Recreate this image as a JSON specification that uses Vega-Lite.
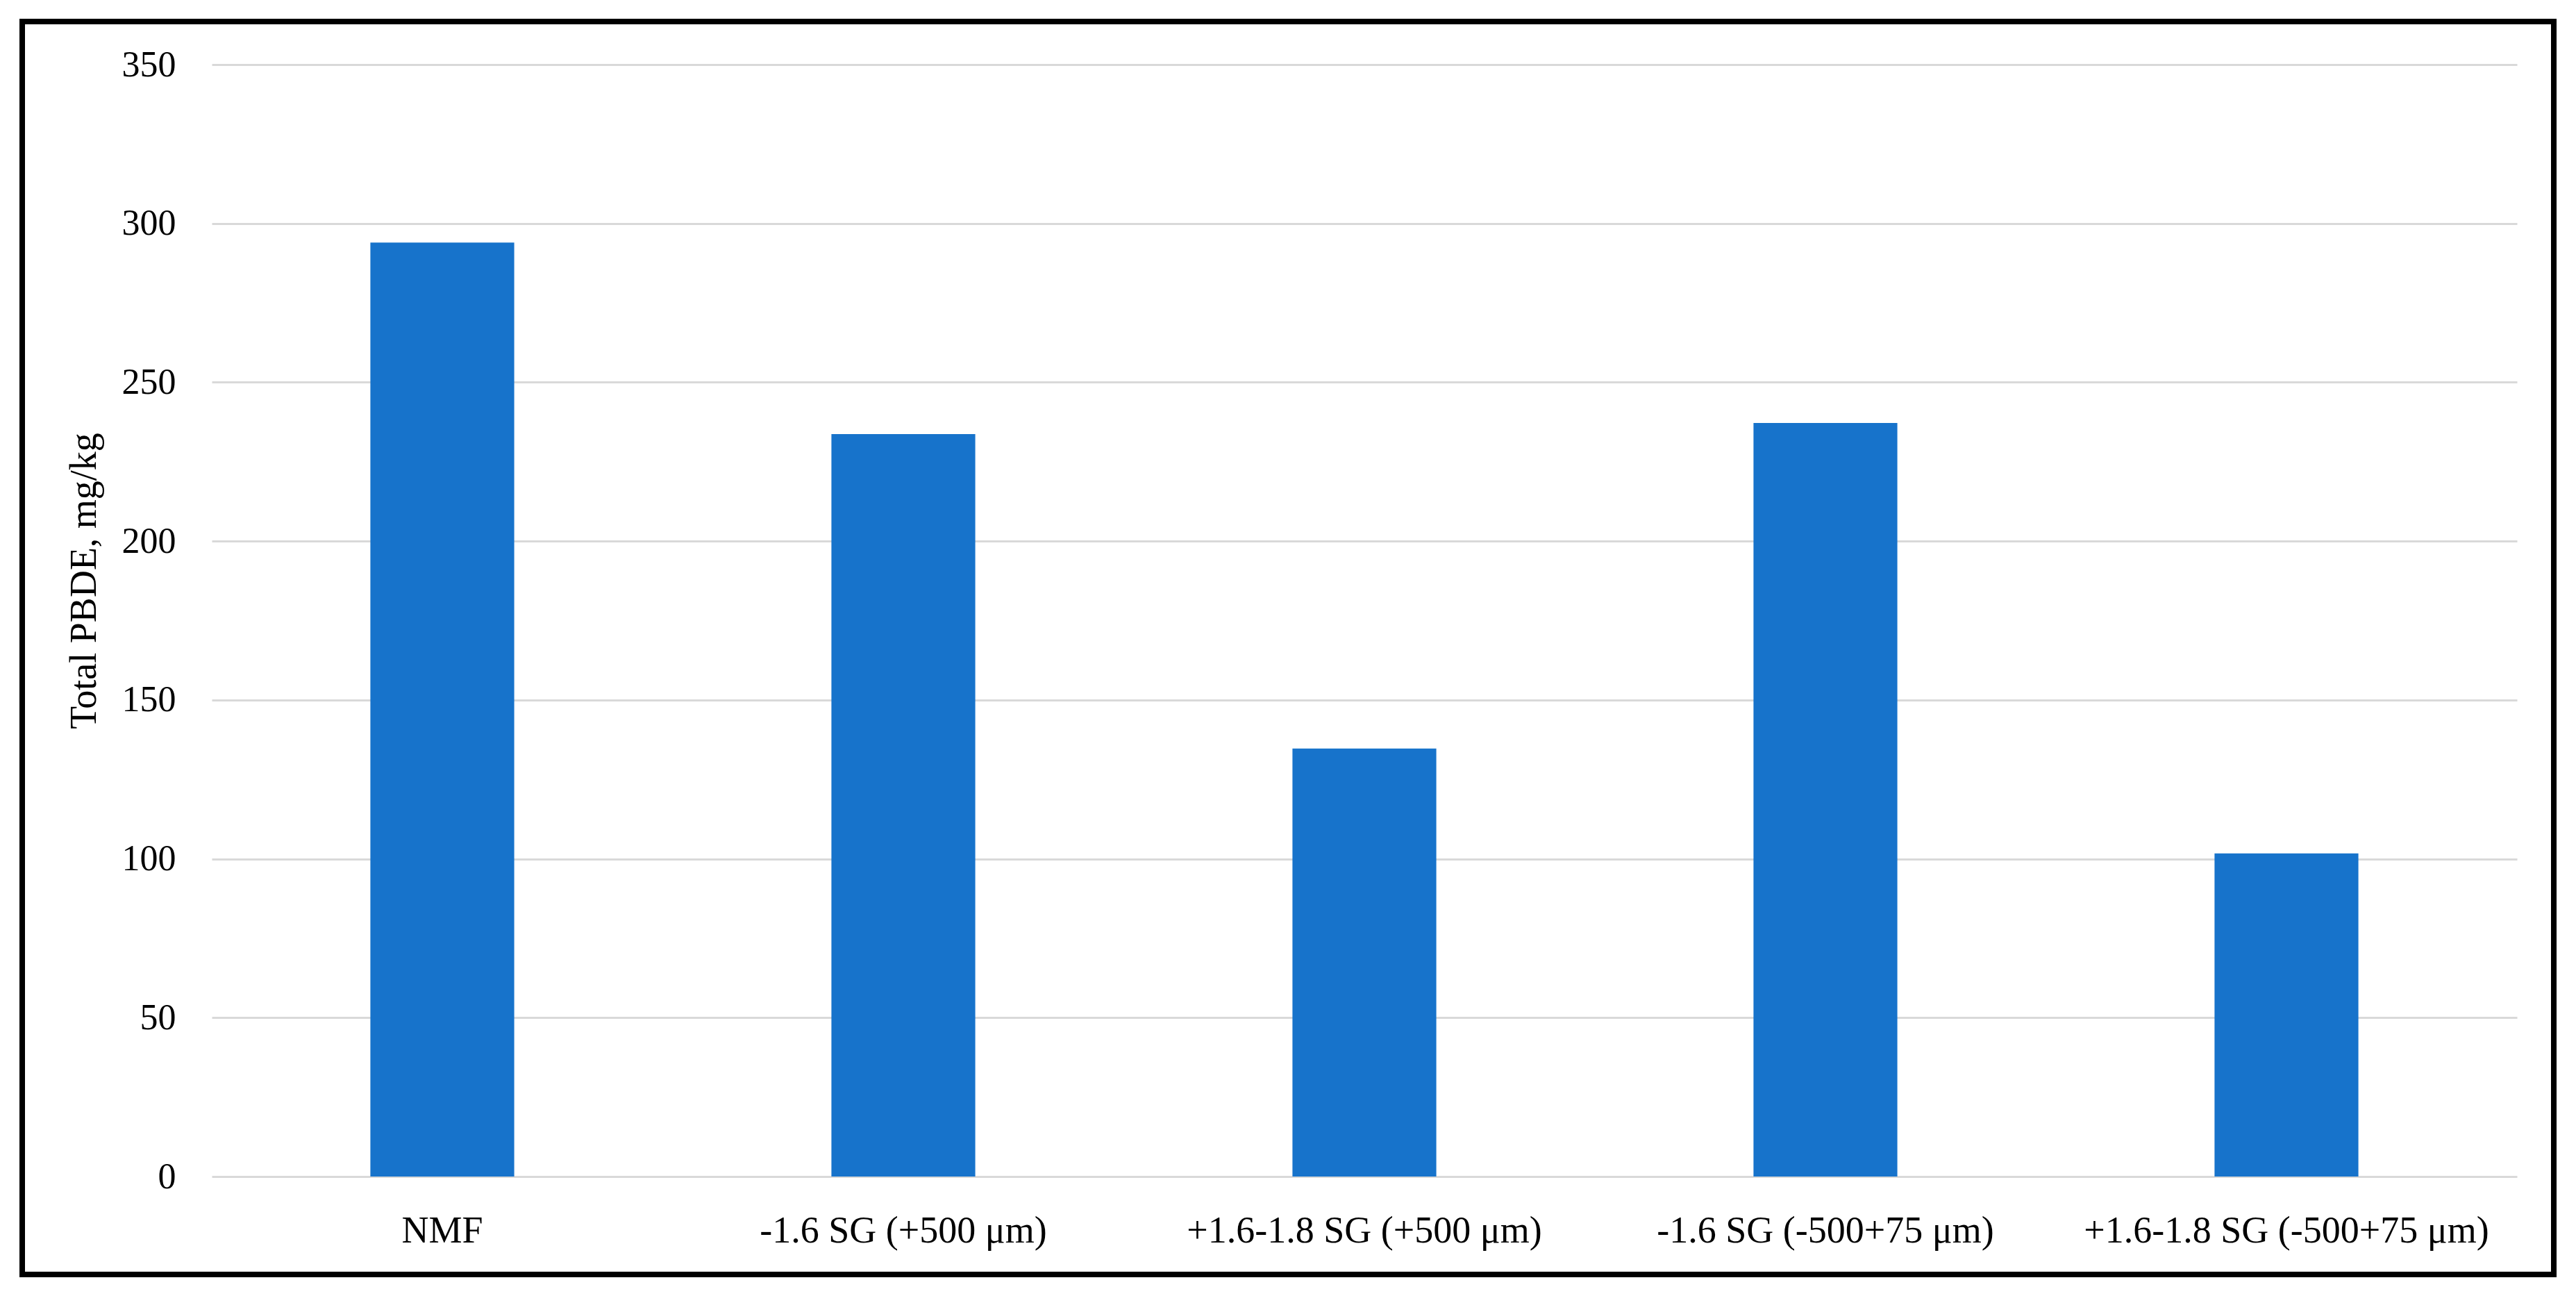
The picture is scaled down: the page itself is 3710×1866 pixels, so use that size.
{
  "$schema": "https://vega.github.io/schema/vega-lite/v6.json",
  "width": 3646,
  "height": 1804,
  "autosize": "none",
  "padding": {"left": 32, "top": 31, "right": 32, "bottom": 31},
  "background": "white",
  "data": {
    "values": [
      {"sample": "NMF", "pbde": 294.0},
      {"sample": "-1.6 SG (+500 μm)", "pbde": 233.7},
      {"sample": "+1.6-1.8 SG (+500 μm)", "pbde": 134.7},
      {"sample": "-1.6 SG (-500+75 μm)", "pbde": 237.2},
      {"sample": "+1.6-1.8 SG (-500+75 μm)", "pbde": 101.7}
    ]
  },
  "mark": {"type": "bar", "color": "#1773CB"},
  "encoding": {
    "x": {
      "field": "sample",
      "type": "nominal",
      "sort": null,
      "scale": {"range": [273, 3593], "paddingInner": 0.688, "paddingOuter": 0.344},
      "axis": {
        "title": null,
        "labelAngle": 0,
        "domain": false,
        "ticks": false,
        "tickSize": 0,
        "grid": false,
        "labelPadding": 51,
        "offset": -141,
        "labelFont": "Liberation Serif",
        "labelFontSize": 54,
        "labelColor": "#000000",
        "labelOverlap": false,
        "labelLimit": 0
      }
    },
    "y": {
      "field": "pbde",
      "type": "quantitative",
      "scale": {"domain": [0, 350], "range": [1663, 62], "nice": false, "zero": true},
      "axis": {
        "title": "Total PBDE, mg/kg",
        "values": [0, 50, 100, 150, 200, 250, 300, 350],
        "domain": false,
        "ticks": false,
        "tickSize": 0,
        "grid": true,
        "gridColor": "#D9D9D9",
        "gridWidth": 3,
        "labelPadding": 52,
        "offset": -273,
        "labelFont": "Liberation Serif",
        "labelFontSize": 52,
        "labelColor": "#000000",
        "titleFont": "Liberation Serif",
        "titleFontSize": 54,
        "titleFontWeight": "normal",
        "titleColor": "#000000",
        "titleAngle": 270,
        "titleAlign": "center",
        "titleBaseline": "middle",
        "titleX": -184,
        "titleY": 805
      }
    }
  },
  "config": {"view": {"stroke": "#000000", "strokeWidth": 8, "fill": "white"}}
}
